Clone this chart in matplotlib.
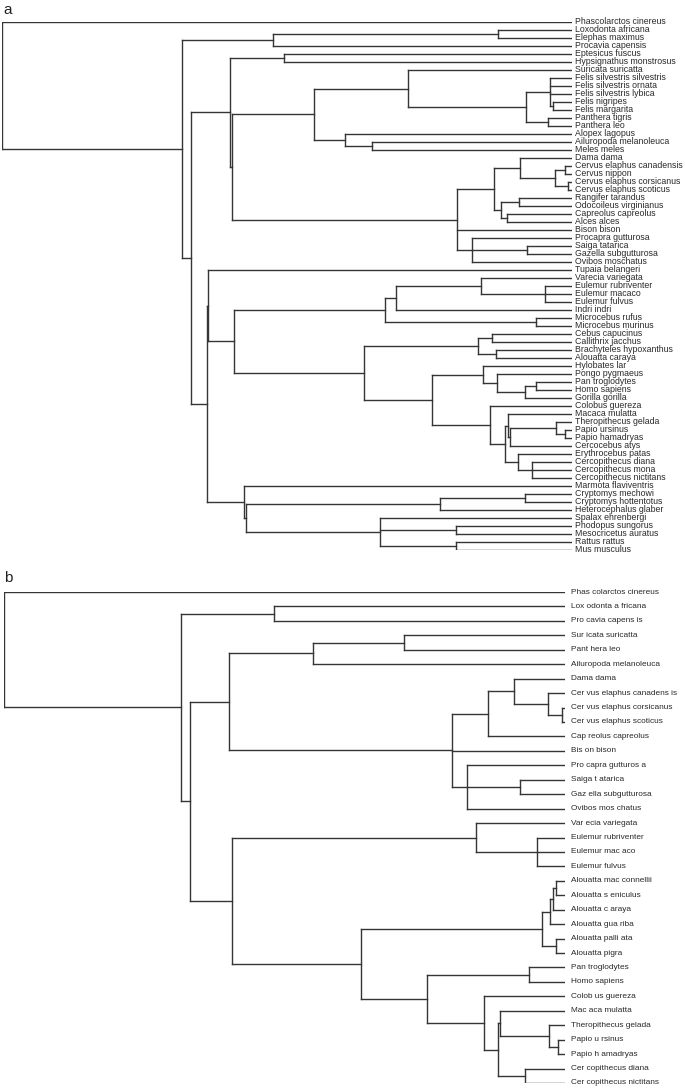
import matplotlib
matplotlib.use('Agg')
import matplotlib.pyplot as plt
from matplotlib.collections import LineCollection

plt.rcParams['font.family'] = ['Liberation Sans', 'DejaVu Sans']

W, H = 685, 1089
INK = '#353535'

# ---- panel a: tips top to bottom ----
taxa_a = [
    'Phascolarctos cinereus', 'Loxodonta africana', 'Elephas maximus', 'Procavia capensis',
    'Eptesicus fuscus', 'Hypsignathus monstrosus', 'Suricata suricatta',
    'Felis silvestris silvestris', 'Felis silvestris ornata', 'Felis silvestris lybica',
    'Felis nigripes', 'Felis margarita', 'Panthera tigris', 'Panthera leo',
    'Alopex lagopus', 'Ailuropoda melanoleuca', 'Meles meles', 'Dama dama',
    'Cervus elaphus canadensis', 'Cervus nippon', 'Cervus elaphus corsicanus',
    'Cervus elaphus scoticus', 'Rangifer tarandus', 'Odocoileus virginianus',
    'Capreolus capreolus', 'Alces alces', 'Bison bison', 'Procapra gutturosa',
    'Saiga tatarica', 'Gazella subgutturosa', 'Ovibos moschatus', 'Tupaia belangeri',
    'Varecia variegata', 'Eulemur rubriventer', 'Eulemur macaco', 'Eulemur fulvus',
    'Indri indri', 'Microcebus rufus', 'Microcebus murinus', 'Cebus capucinus',
    'Callithrix jacchus', 'Brachyteles hypoxanthus', 'Alouatta caraya', 'Hylobates lar',
    'Pongo pygmaeus', 'Pan troglodytes', 'Homo sapiens', 'Gorilla gorilla',
    'Colobus guereza', 'Macaca mulatta', 'Theropithecus gelada', 'Papio ursinus',
    'Papio hamadryas', 'Cercocebus atys', 'Erythrocebus patas', 'Cercopithecus diana',
    'Cercopithecus mona', 'Cercopithecus nictitans', 'Marmota flaviventris',
    'Cryptomys mechowi', 'Cryptomys hottentotus', 'Heterocephalus glaber',
    'Spalax ehrenbergi', 'Phodopus sungorus', 'Mesocricetus auratus', 'Rattus rattus',
    'Mus musculus',
]
t = taxa_a

# internal nodes are (distance from root, [children]); tips by name
laur_a = (228, [(282, [t[4], t[5]]),
                (230, [(312, [(406, [t[6], (524, [(548, [t[7], t[8], t[9], (551, [t[10], t[11]])]),
                                                  (546, [t[12], t[13]])])]),
                              (343, [t[14], (370, [t[15], t[16]])])]),
                       (455, [(492, [(518, [t[17], (553, [(563, [t[18], t[19]]), (566, [t[20], t[21]])])]),
                                     (499, [(517, [t[22], t[23]]), (505, [t[24], t[25]])])]),
                              t[26],
                              (470, [t[27], (525, [t[28], t[29]]), t[30]])])])])

primates_a = (232, [(383, [(394, [(479, [t[32], (543, [t[33], t[34], t[35]])]), t[36]]),
                           (534, [t[37], t[38]])]),
                    (362, [(476, [(490, [t[39], t[40]]), (494, [t[41], t[42]])]),
                           (430, [(481, [t[43], (495, [t[44], (523, [(534, [t[45], t[46]]), t[47]])])]),
                                  (488, [t[48], (503, [(506, [t[49], (508, [(554, [t[50], (563, [t[51], t[52]])]), t[53]])]),
                                                       (516, [t[54], (530, [t[55], t[56], t[57]])])])])])])])

rodents_a = (242, [t[58], (244, [(438, [(523, [t[59], t[60]]), t[61]]),
                                 (378, [t[62], (454, [t[63], t[64]]), (454, [t[65], t[66]])])])])

tree_a = (0, [t[0], (180, [(271, [(496, [t[1], t[2]]), t[3]]),
                           (189, [laur_a, (205, [(206, [t[31], primates_a]), rodents_a])])])])
tip_a = 570

# ---- panel b ----
taxa_b = [
    'Phas colarctos cinereus', 'Lox odonta a fricana', 'Pro cavia capens is',
    'Sur icata suricatta', 'Pant hera leo', 'Ailuropoda melanoleuca', 'Dama dama',
    'Cer vus elaphus canadens is', 'Cer vus elaphus corsicanus', 'Cer vus elaphus scoticus',
    'Cap reolus capreolus', 'Bis on bison', 'Pro capra gutturos a', 'Saiga t atarica',
    'Gaz ella subgutturosa', 'Ovibos mos chatus', 'Var ecia variegata',
    'Eulemur rubriventer', 'Eulemur mac aco', 'Eulemur fulvus',
    'Alouatta mac connellii', 'Alouatta s eniculus', 'Alouatta c araya',
    'Alouatta gua riba', 'Alouatta palli ata', 'Alouatta pigra', 'Pan troglodytes',
    'Homo sapiens', 'Colob us guereza', 'Mac aca mulatta', 'Theropithecus gelada',
    'Papio u rsinus', 'Papio h amadryas', 'Cer copithecus diana',
    'Cer copithecus nictitans',
]
s = taxa_b

laur_b = (225, [(309, [(400, [s[3], s[4]]), s[5]]),
                (448, [(484, [(510, [s[6], (544, [s[7], (558, [s[8], s[9]])])]), s[10]]),
                       s[11],
                       (463, [s[12], (516, [s[13], s[14]]), s[15]])])])

primates_b = (228, [(472, [s[16], (533, [s[17], s[18], s[19]])]),
                    (357, [(538, [(546, [(549, [(552, [s[20], s[21]]), s[22]]), s[23]]),
                                  (552, [s[24], s[25]])]),
                           (423, [(525, [s[26], s[27]]),
                                  (480, [s[28], (494, [(496, [s[29], (545, [s[30], (554, [s[31], s[32]])])]),
                                                       (521, [s[33], s[34]])])])])])])

tree_b = (0, [s[0], (177, [(270, [s[1], s[2]]), (186, [laur_b, primates_b])])])
tip_b = 561


def draw(node, tip, ypos, segs):
    if isinstance(node, str):
        return tip, ypos[node]
    depth, kids = node
    pts = [draw(k, tip, ypos, segs) for k in kids]
    ys = [p[1] for p in pts]
    for kx, ky in pts:
        segs.append([(depth, ky), (kx, ky)])
    segs.append([(depth, min(ys)), (depth, max(ys))])
    return depth, (ys[0] + ys[-1]) / 2


def panel(ax, tree, taxa, tip, fsize, gap):
    ypos = {name: i for i, name in enumerate(taxa)}
    segs = []
    draw(tree, tip, ypos, segs)
    ax.add_collection(LineCollection(segs, colors=INK, linewidths=1.0, capstyle='projecting'))
    for name, i in ypos.items():
        ax.annotate(name, (tip, i), xytext=(gap, 0), textcoords='offset points',
                    va='center', ha='left', fontsize=fsize, color='#2a2a2a',
                    annotation_clip=False)
    ax.set_xlim(0, tip)
    ax.set_ylim(len(taxa) - 1, 0)
    ax.axis('off')


fig = plt.figure(figsize=(W / 100, H / 100), dpi=100)

ax_a = fig.add_axes([2 / W, 1 - 550 / H, 570 / W, 528 / H])
panel(ax_a, tree_a, taxa_a, tip_a, 6.35, 2.5)

ax_b = fig.add_axes([4 / W, 1 - 1083 / H, 561 / W, 491 / H])
panel(ax_b, tree_b, taxa_b, tip_b, 5.95, 4)

fig.text(3 / W, 1 - 10 / H, 'a', fontsize=11, va='center', ha='left', color='#222222')
fig.text(4 / W, 1 - 578 / H, 'b', fontsize=11, va='center', ha='left', color='#222222')

fig.savefig('out.png', dpi=100)
